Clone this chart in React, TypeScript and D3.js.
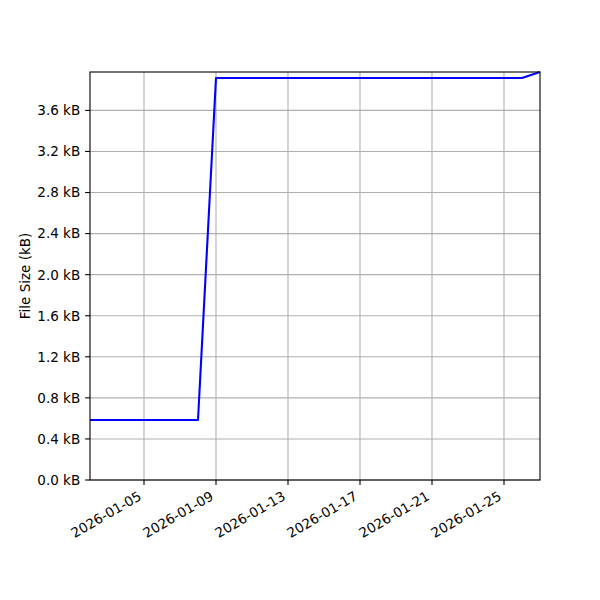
import React, { useEffect, useRef } from 'react';
import * as d3 from 'd3';

// file size history (kB)
const dates = ['2026-01-02', '2026-01-08', '2026-01-09', '2026-01-26', '2026-01-27'];
const sizes = [0.585, 0.585, 3.915, 3.915, 3.974];
const xTicks = ['2026-01-05', '2026-01-09', '2026-01-13', '2026-01-17', '2026-01-21', '2026-01-25'];
const yTicks = [0, 0.4, 0.8, 1.2, 1.6, 2.0, 2.4, 2.8, 3.2, 3.6];

const parse = d3.utcParse('%Y-%m-%d');

const App = () => {
  const ref = useRef<SVGSVGElement | null>(null);

  useEffect(() => {
    if (!ref.current) return;
    const svg = d3.select(ref.current);
    svg.selectAll('*').remove();

    const left = 90, right = 540, top = 72, bottom = 480;
    const font = 'DejaVu Sans';
    const fs = '13.5px';

    const x = d3.scaleUtc()
      .domain([parse(dates[0])!, parse(dates[dates.length - 1])!])
      .range([left, right]);
    const y = d3.scaleLinear()
      .domain([0, d3.max(sizes)!])
      .range([bottom, top]);

    const pts = dates.map((d, i) => ({ date: parse(d)!, v: sizes[i] }));
    const tickDates = xTicks.map((d) => parse(d)!);

    // grid
    svg.append('g')
      .selectAll('line')
      .data(tickDates)
      .join('line')
      .attr('x1', (d) => x(d)).attr('x2', (d) => x(d))
      .attr('y1', top).attr('y2', bottom)
      .attr('stroke', '#b0b0b0').attr('stroke-width', 1.1);
    svg.append('g')
      .selectAll('line')
      .data(yTicks)
      .join('line')
      .attr('x1', left).attr('x2', right)
      .attr('y1', (d) => y(d)).attr('y2', (d) => y(d))
      .attr('stroke', '#b0b0b0').attr('stroke-width', 1.1);

    // line
    const line = d3.line<{ date: Date; v: number }>()
      .x((d) => x(d.date))
      .y((d) => y(d.v));
    svg.append('path')
      .datum(pts)
      .attr('d', line)
      .attr('fill', 'none')
      .attr('stroke', '#0000ff')
      .attr('stroke-width', 2.1)
      .attr('stroke-linejoin', 'round');

    // frame
    svg.append('rect')
      .attr('x', left).attr('y', top)
      .attr('width', right - left).attr('height', bottom - top)
      .attr('fill', 'none').attr('stroke', 'black').attr('stroke-width', 1.1);

    // x ticks
    const xg = svg.append('g');
    xg.selectAll('line')
      .data(tickDates)
      .join('line')
      .attr('x1', (d) => x(d)).attr('x2', (d) => x(d))
      .attr('y1', bottom).attr('y2', bottom + 4.9)
      .attr('stroke', 'black').attr('stroke-width', 1.1);
    xg.selectAll('text')
      .data(tickDates)
      .join('text')
      .attr('transform', (d) => `translate(${x(d) - 1.5},${bottom + 19}) rotate(-30)`)
      .attr('text-anchor', 'end')
      .style('font-family', font)
      .style('font-size', fs)
      .text((d) => d3.utcFormat('%Y-%m-%d')(d));

    // y ticks
    const yg = svg.append('g');
    yg.selectAll('line')
      .data(yTicks)
      .join('line')
      .attr('x1', left - 4.9).attr('x2', left)
      .attr('y1', (d) => y(d)).attr('y2', (d) => y(d))
      .attr('stroke', 'black').attr('stroke-width', 1.1);
    yg.selectAll('text')
      .data(yTicks)
      .join('text')
      .attr('x', left - 9.8)
      .attr('y', (d) => y(d))
      .attr('dy', '0.36em')
      .attr('text-anchor', 'end')
      .style('font-family', font)
      .style('font-size', fs)
      .text((d) => `${d3.format('.1f')(d)} kB`);

    svg.append('text')
      .attr('transform', `translate(30,${(top + bottom) / 2}) rotate(-90)`)
      .attr('text-anchor', 'middle')
      .style('font-family', font)
      .style('font-size', fs)
      .text('File Size (kB)');
  }, []);

  return (
    <svg
      ref={ref}
      width={600}
      height={600}
      style={{ position: 'absolute', left: 0, top: 0, background: 'white' }}
    />
  );
};

export default App;
